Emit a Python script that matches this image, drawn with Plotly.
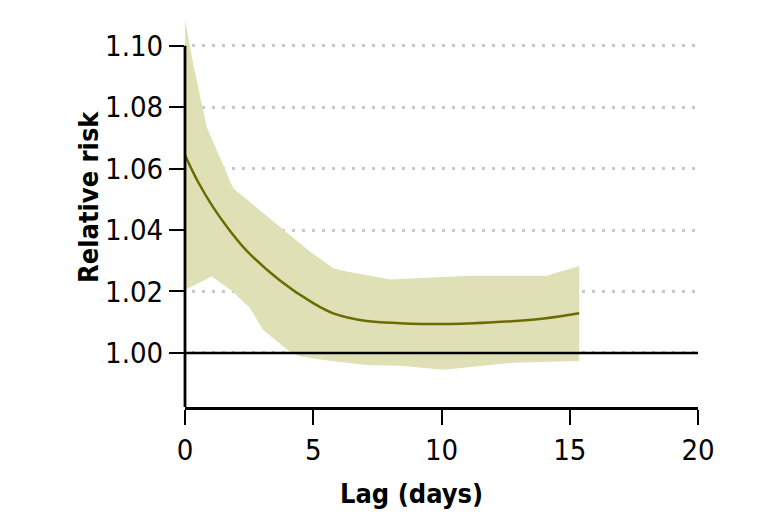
import plotly.graph_objects as go

# Data
mean_lag = [0, 0.5, 1.1, 1.75, 2.4, 3.7, 5.0, 5.78, 7.08, 8.38, 10.3, 12.5, 14.0, 15.37]
mean_rr = [1.0643, 1.0558, 1.0474, 1.0398, 1.0333, 1.0236, 1.0162, 1.0129, 1.0104,
           1.0097, 1.0094, 1.0102, 1.0112, 1.0129]

upper_lag = [0, 0.32, 0.85, 1.88, 4.87, 5.78, 6.3, 8.0, 11.1, 14.1, 15.37]
upper_rr = [1.1085, 1.094, 1.0735, 1.0536, 1.033, 1.0276, 1.0265, 1.0239, 1.0251, 1.0251, 1.0283]

lower_lag = [0, 1.04, 1.82, 2.53, 3.05, 4.09, 4.48, 5.39, 7.08, 8.38, 10.07, 12.8, 15.37]
lower_rr = [1.0205, 1.0249, 1.0203, 1.0146, 1.0075, 1.0004, 0.9989, 0.9977, 0.9961, 0.9958,
            0.9945, 0.9968, 0.9974]

x_ticks = [0, 5, 10, 15, 20]
y_ticks = [1.00, 1.02, 1.04, 1.06, 1.08, 1.10]
y_tick_labels = ["1.00", "1.02", "1.04", "1.06", "1.08", "1.10"]
ref_rr = 1.0

FONT = "DejaVu Sans Condensed, DejaVu Sans, sans-serif"
FILL = "#dfe0b6"
LINE = "#6b6b00"

# page body has an 8px margin, so the figure sits 8px right/down in the window
OFF = 8
L, R, T, B = 185 - OFF, 80 + OFF, 15 - OFF, 119 + OFF
W, H = 778, 526

fig = go.Figure()

# Confidence band as a closed polygon
fig.add_trace(go.Scatter(
    x=upper_lag + lower_lag[::-1],
    y=upper_rr + lower_rr[::-1],
    fill="toself", fillcolor=FILL, mode="lines",
    line=dict(width=0, color=FILL), hoverinfo="skip", showlegend=False,
))

fig.add_trace(go.Scatter(
    x=mean_lag, y=mean_rr, mode="lines",
    line=dict(color=LINE, width=2.5, shape="spline", smoothing=1.0),
    showlegend=False,
))

x_min, x_max = 0, 20
y_min, y_max = 0.9824, 1.11

# reference line at RR = 1
fig.add_shape(type="line", xref="x", yref="y", x0=x_min, x1=x_max, y0=ref_rr, y1=ref_rr,
              line=dict(color="black", width=2.5), layer="above")
# y axis line (from bottom of range up to top tick); paper x so it is not clipped
fig.add_shape(type="line", xref="paper", yref="y", x0=0, x1=0, y0=y_min, y1=y_ticks[-1],
              line=dict(color="black", width=2.8), layer="above")

TICK_SIZE = 29
TITLE_SIZE = 27

fig.update_layout(
    width=W, height=H,
    margin=dict(l=L, r=R, t=T, b=B, autoexpand=False),
    paper_bgcolor="white", plot_bgcolor="white",
    font=dict(family=FONT, color="black", size=TICK_SIZE),
    xaxis=dict(
        range=[x_min, x_max], tickvals=x_ticks, ticktext=[str(v) for v in x_ticks],
        showgrid=False, zeroline=False, showline=True, linecolor="black", linewidth=2.8,
        ticks="outside", ticklen=15, tickwidth=2, tickcolor="black",
        tickfont=dict(family=FONT, size=TICK_SIZE, color="black"),
        automargin=False,
    ),
    yaxis=dict(
        range=[y_min, y_max], tickvals=y_ticks, ticktext=y_tick_labels,
        showgrid=True, gridcolor="#c8c8c8", gridwidth=3, griddash="0px,7px,3px,0px",
        zeroline=False, showline=False,
        ticks="outside", ticklen=15, tickwidth=2, tickcolor="black",
        tickfont=dict(family=FONT, size=TICK_SIZE, color="black"),
        automargin=False,
    ),
)

pw = W - L - R
ph = H - T - B


def px_to_paper(xp, yp):
    # xp, yp: window pixel coordinates
    return (xp - OFF - L) / pw, ((H - (yp - OFF)) - B) / ph


ax, ay = px_to_paper(88, 197)
bx, by = px_to_paper(411, 493)
fig.add_annotation(text="<b>Relative risk</b>", x=ax, y=ay, xref="paper", yref="paper",
                   showarrow=False, textangle=-90,
                   font=dict(family=FONT, size=TITLE_SIZE, color="black"),
                   xanchor="center", yanchor="middle")
fig.add_annotation(text="<b>Lag (days)</b>", x=bx, y=by, xref="paper", yref="paper",
                   showarrow=False,
                   font=dict(family=FONT, size=TITLE_SIZE, color="black"),
                   xanchor="center", yanchor="middle")

fig.write_html("out.html")
